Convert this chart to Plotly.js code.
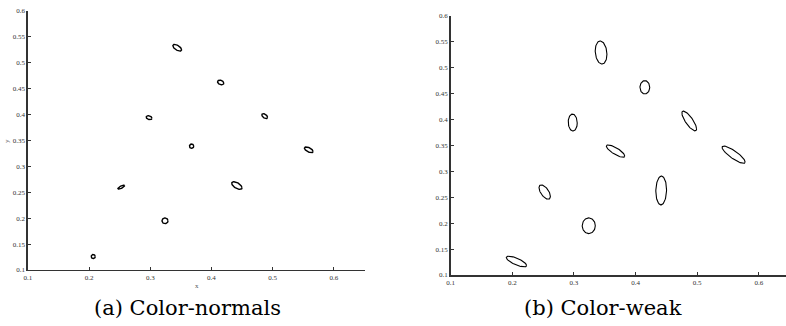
<!DOCTYPE html>
<html>
<head>
<meta charset="utf-8">
<script src="https://cdn.plot.ly/plotly-3.0.1.min.js"></script>
<style>html,body{margin:0;padding:0;background:#fff}#chart{width:786px;height:326px}</style>
</head>
<body>
<div id="chart"></div>
<script>
// Ellipse centres (shared by both panels)
const centerX = [0.344, 0.415, 0.298, 0.487, 0.3675, 0.559, 0.2525, 0.4415, 0.324, 0.2067];
const centerY = [0.529, 0.462, 0.394, 0.397, 0.339, 0.332, 0.260, 0.263, 0.195, 0.126];

// (a) Color-normals: half extents in x, y and correlation
const normalSx  = [0.0071, 0.0051, 0.0047, 0.0047, 0.0035, 0.0071, 0.0055, 0.0084, 0.0049, 0.0033];
const normalSy  = [0.0065, 0.0045, 0.0039, 0.0048, 0.0042, 0.0055, 0.0039, 0.0074, 0.0055, 0.0039];
const normalRho = [-0.6, -0.3, -0.3, -0.5, 0.0, -0.6, 0.75, -0.6, 0.0, 0.0];

// (b) Color-weak
const weakSx  = [0.0095, 0.0079, 0.0073, 0.0119, 0.0149, 0.0187, 0.0092, 0.0087, 0.0106, 0.0165];
const weakSy  = [0.0222, 0.0128, 0.0164, 0.0190, 0.0119, 0.0167, 0.0138, 0.0277, 0.0151, 0.0103];
const weakRho = [-0.15, 0.0, -0.05, -0.8, -0.8, -0.85, -0.6, 0.05, 0.0, -0.75];

const xTickVals = [0.1, 0.2, 0.3, 0.4, 0.5, 0.6];
const xTickText = ['0.1', '0.2', '0.3', '0.4', '0.5', '0.6'];
const yTickVals = [0.1, 0.15, 0.2, 0.25, 0.3, 0.35, 0.4, 0.45, 0.5, 0.55, 0.6];
const yTickText = ['0.1', '0.15', '0.2', '0.25', '0.3', '0.35', '0.4', '0.45', '0.5', '0.55', '0.6'];

function ellipses(sx, sy, rho) {
  const xs = [], ys = [];
  const n = 72;
  for (let i = 0; i < centerX.length; i++) {
    const k = Math.sqrt(1 - rho[i] * rho[i]);
    for (let j = 0; j <= n; j++) {
      const t = 2 * Math.PI * j / n;
      xs.push(centerX[i] + sx[i] * Math.cos(t));
      ys.push(centerY[i] + sy[i] * (rho[i] * Math.cos(t) + k * Math.sin(t)));
    }
    xs.push(null); ys.push(null);
  }
  return {xs, ys};
}

const a = ellipses(normalSx, normalSy, normalRho);
const b = ellipses(weakSx, weakSy, weakRho);

const traces = [
  {x: a.xs, y: a.ys, type: 'scatter', mode: 'lines', xaxis: 'x', yaxis: 'y',
   line: {color: '#000', width: 1.4}, hoverinfo: 'skip', connectgaps: false},
  {x: b.xs, y: b.ys, type: 'scatter', mode: 'lines', xaxis: 'x2', yaxis: 'y2',
   line: {color: '#000', width: 1.1}, hoverinfo: 'skip', connectgaps: false}
];

const SERIF = 'Liberation Serif';
const CAPSERIF = 'DejaVu Serif';
const tickFont = {family: SERIF, size: 7, color: '#333'};
function xax(domain, range) {
  return {domain, range, tickvals: xTickVals, ticktext: xTickText, ticks: 'inside', ticklen: 3,
    tickcolor: '#333', showline: true, linecolor: '#333', linewidth: 1.5, showgrid: false,
    zeroline: false, tickfont: tickFont, fixedrange: true};
}
function yax(domain, anchor) {
  return {domain, range: [0.1, 0.6], anchor, tickvals: yTickVals, ticktext: yTickText, ticks: 'inside',
    ticklen: 3, tickcolor: '#333', showline: true, linecolor: '#333', linewidth: 1.5, showgrid: false,
    zeroline: false, tickfont: tickFont, fixedrange: true};
}

const layout = {
  width: 786, height: 326,
  margin: {l: 0, r: 0, t: 0, b: 0},
  paper_bgcolor: '#fff', plot_bgcolor: '#fff',
  showlegend: false,
  font: {family: SERIF},
  xaxis: Object.assign(xax([0.0356, 0.4644], [0.1, 0.651]), {anchor: 'y'}),
  yaxis: yax([0.1718, 0.9663], 'x'),
  xaxis2: Object.assign(xax([0.5734, 1.0], [0.1, 0.644]), {anchor: 'y2'}),
  yaxis2: yax([0.1564, 0.9518], 'x2'),
  annotations: [
    {text: 'x', xref: 'paper', yref: 'paper', x: 197 / 786, y: 1 - 286 / 326, showarrow: false,
     xanchor: 'center', yanchor: 'middle', font: {family: SERIF, size: 7, color: '#555'}},
    {text: 'y', xref: 'paper', yref: 'paper', x: 7 / 786, y: 1 - 141 / 326, showarrow: false,
     xanchor: 'center', yanchor: 'middle', textangle: -90, font: {family: SERIF, size: 7, color: '#555'}},
    {text: '(a) Color-normals', xref: 'paper', yref: 'paper', x: 187 / 786, y: 1 - 308 / 326,
     xanchor: 'center', yanchor: 'middle', showarrow: false, font: {family: CAPSERIF, size: 21, color: '#000'}},
    {text: '(b) Color-weak', xref: 'paper', yref: 'paper', x: 603 / 786, y: 1 - 308 / 326,
     xanchor: 'center', yanchor: 'middle', showarrow: false, font: {family: CAPSERIF, size: 21, color: '#000'}}
  ]
};

Plotly.newPlot('chart', traces, layout, {displayModeBar: false, staticPlot: true});
</script>
</body>
</html>
